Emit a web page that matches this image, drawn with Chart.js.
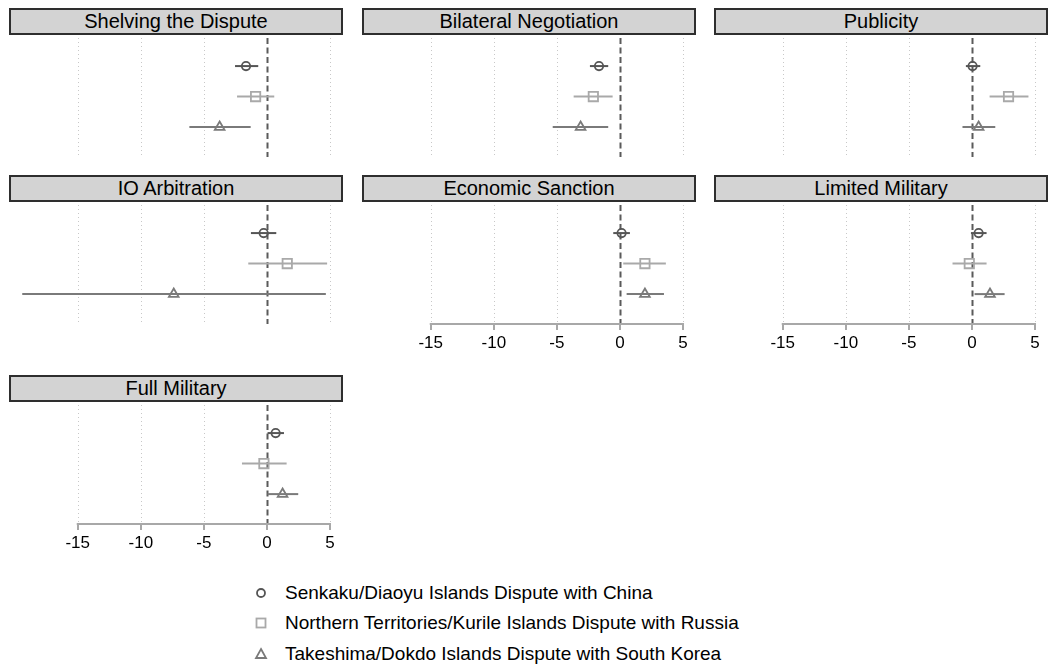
<!DOCTYPE html>
<html>
<head>
<meta charset="utf-8">
<script src="https://cdn.jsdelivr.net/npm/chart.js@4.4.1/dist/chart.umd.min.js"></script>
<style>
  html, body { margin: 0; padding: 0; background: #fff; }
  body { width: 1052px; height: 668px; position: relative; overflow: hidden;
         font-family: "Liberation Sans", Arial, sans-serif; }
  .strip { position: absolute; height: 27px; width: 334px; box-sizing: border-box;
           background: #d3d3d3; border: 2px solid #2e2e2e; text-align: center;
           font-size: 20px; line-height: 23px; color: #000; }
  .panel { position: absolute; }
  #legend { position: absolute; left: 252px; top: 578px; font-size: 19px; line-height: 30.3px; color: #000; }
  #legend div { position: relative; padding-left: 33px; white-space: nowrap; }
  #legend svg { position: absolute; left: 0; top: 6px; }
</style>
</head>
<body>
<div id="legend"></div>
<script>
// facet titles, in drawing order
const panels = ['Shelving the Dispute', 'Bilateral Negotiation', 'Publicity',
  'IO Arbitration', 'Economic Sanction', 'Limited Military', 'Full Military'];
const seriesNames = [
  'Senkaku/Diaoyu Islands Dispute with China',
  'Northern Territories/Kurile Islands Dispute with Russia',
  'Takeshima/Dokdo Islands Dispute with South Korea'
];

// point estimates and interval ends, one entry per panel
const chinaEst  = [-1.66, -1.66, 0.05, -0.26, 0.13, 0.53, 0.69];
const chinaLo   = [-2.53, -2.38, -0.48, -1.27, -0.53, -0.08, 0.05];
const chinaHi   = [-0.69, -0.93, 0.66, 0.74, 0.79, 1.16, 1.35];
const russiaEst = [-0.90, -2.11, 2.90, 1.61, 1.98, -0.21, -0.24];
const russiaLo  = [-2.37, -3.67, 1.40, -1.48, 0.26, -1.54, -1.98];
const russiaHi  = [0.58, -0.58, 4.48, 4.77, 3.64, 1.16, 1.56];
const koreaEst  = [-3.75, -3.12, 0.53, -7.39, 1.98, 1.43, 1.24];
const koreaLo   = [-6.15, -5.33, -0.75, -19.40, 0.53, 0.21, 0.05];
const koreaHi   = [-1.29, -0.93, 1.85, 4.67, 3.49, 2.59, 2.48];

const xTicks = [-15, -10, -5, 0, 5];

// grid placement of each facet: [left, top, has x axis]
const cells = [
  [9, 8, false], [362, 8, false], [714, 8, false],
  [9, 175, false], [362, 175, true], [714, 175, true],
  [9, 375, true]
];

const series = [
  { est: chinaEst,  lo: chinaLo,  hi: chinaHi,  color: '#555555', style: 'circle',   r: 4.2 },
  { est: russiaEst, lo: russiaLo, hi: russiaHi, color: '#a9a9a9', style: 'rect',     r: 6.6 },
  { est: koreaEst,  lo: koreaLo,  hi: koreaHi,  color: '#7a7a7a', style: 'triangle', r: 5.6 }
];

// dotted verticals at the ticks, dashed one at zero, short axis line
const refLines = {
  id: 'refLines',
  beforeDatasetsDraw(chart, args, opts) {
    const { ctx, chartArea } = chart;
    const x = chart.scales.x;
    ctx.save();
    xTicks.forEach(v => {
      const px = Math.round(x.getPixelForValue(v)) + 0.5;
      ctx.beginPath();
      if (v === 0) {
        ctx.strokeStyle = '#5a5a5a';
        ctx.lineWidth = 2;
        ctx.setLineDash([6, 3.5]);
      } else {
        ctx.strokeStyle = '#c8c8c8';
        ctx.lineWidth = 1;
        ctx.setLineDash([1, 3]);
      }
      ctx.moveTo(px, chartArea.top);
      ctx.lineTo(px, chartArea.bottom);
      ctx.stroke();
    });
    if (opts.axis) {
      ctx.setLineDash([]);
      ctx.strokeStyle = '#a8a8a8';
      ctx.lineWidth = 2;
      ctx.beginPath();
      ctx.moveTo(x.getPixelForValue(xTicks[0]) - 1, chartArea.bottom);
      ctx.lineTo(x.getPixelForValue(xTicks[xTicks.length - 1]) + 1, chartArea.bottom);
      ctx.stroke();
    }
    ctx.restore();
  }
};

panels.forEach((title, i) => {
  const [left, top, hasAxis] = cells[i];

  const strip = document.createElement('div');
  strip.className = 'strip';
  strip.style.left = left + 'px';
  strip.style.top = top + 'px';
  strip.textContent = title;
  document.body.appendChild(strip);

  const w = 334, h = 119 + (hasAxis ? 32 : 0);
  const holder = document.createElement('div');
  holder.className = 'panel';
  holder.style.left = left + 'px';
  holder.style.top = (top + 30) + 'px';
  holder.style.width = w + 'px';
  holder.style.height = h + 'px';
  const canvas = document.createElement('canvas');
  canvas.width = w; canvas.height = h;
  canvas.style.width = w + 'px'; canvas.style.height = h + 'px';
  holder.appendChild(canvas);
  document.body.appendChild(holder);

  const whiskers = series.map((s, k) => ({
    type: 'line',
    data: [{ x: s.lo[i], y: k + 1 }, { x: s.hi[i], y: k + 1 }],
    borderColor: s.color,
    borderWidth: 2,
    pointRadius: 0,
    fill: false
  }));
  const markers = series.map((s, k) => ({
    type: 'scatter',
    data: [{ x: s.est[i], y: k + 1 }],
    pointStyle: s.style,
    pointRadius: s.r,
    borderColor: s.color,
    borderWidth: 1.8,
    backgroundColor: 'rgba(0,0,0,0)'
  }));

  new Chart(canvas, {
    type: 'scatter',
    data: { datasets: whiskers.concat(markers) },
    options: {
      responsive: false,
      animation: false,
      events: [],
      layout: { padding: 0, autoPadding: false },
      plugins: { legend: { display: false }, tooltip: { enabled: false }, refLines: { axis: hasAxis } },
      scales: {
        x: {
          type: 'linear',
          min: -20.45,
          max: 6.03,
          display: hasAxis,
          afterBuildTicks: s => { s.ticks = xTicks.map(v => ({ value: v })); },
          afterFit: s => { if (hasAxis) s.height = 32; },
          grid: { drawOnChartArea: false, drawTicks: true, tickLength: 6, color: '#a8a8a8', lineWidth: 2 },
          border: { display: false },
          ticks: {
            color: '#000',
            autoSkip: false,
            maxRotation: 0,
            padding: 3,
            font: { family: '"Liberation Sans", Arial, sans-serif', size: 17 }
          }
        },
        y: { type: 'linear', min: 0.08, max: 3.98, reverse: true, display: false }
      }
    },
    plugins: [refLines]
  });
});

// legend with the same marker shapes
const legendMarks = [
  '<circle cx="9" cy="9" r="4" fill="none" stroke="#555555" stroke-width="1.8"/>',
  '<rect x="4.5" y="4.5" width="9" height="9" fill="none" stroke="#a9a9a9" stroke-width="1.8"/>',
  '<polygon points="9,4 14,13 4,13" fill="none" stroke="#7a7a7a" stroke-width="1.8"/>'
];
const legend = document.getElementById('legend');
seriesNames.forEach((name, k) => {
  const row = document.createElement('div');
  row.innerHTML = '<svg width="18" height="18">' + legendMarks[k] + '</svg>';
  row.appendChild(document.createTextNode(name));
  legend.appendChild(row);
});
</script>
</body>
</html>
